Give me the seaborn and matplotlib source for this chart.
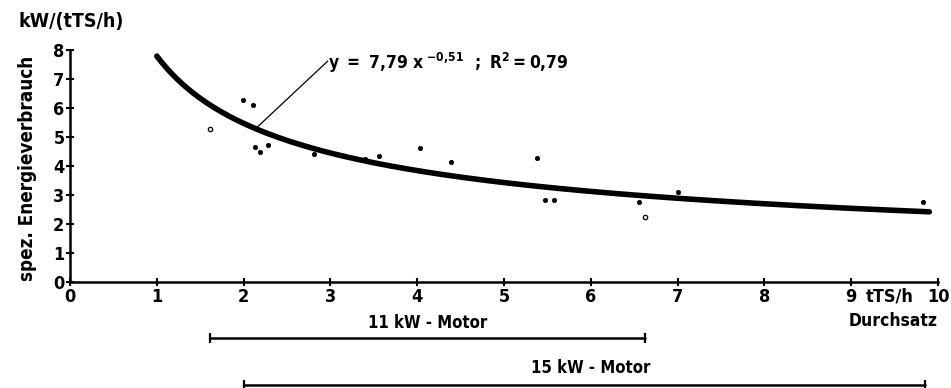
import numpy as np
import pandas as pd
import matplotlib
matplotlib.use("Agg")
import matplotlib.pyplot as plt
import seaborn as sns

# ---- data ----
x_filled = [1.99, 2.11, 2.13, 2.19, 2.28, 2.73, 2.81, 3.40, 3.56, 4.03, 4.39,
            5.38, 5.47, 5.58, 6.55, 7.00, 9.83]
y_filled = [6.26, 6.10, 4.65, 4.50, 4.72, 4.70, 4.40, 4.23, 4.33, 4.61, 4.14,
            4.28, 2.83, 2.84, 2.76, 3.09, 2.76]
x_open = [1.61, 6.62]
y_open = [5.28, 2.24]

fit_a = 7.79          # y = a * x^b  (as printed in the chart)
fit_b = -0.51
fit_x_range = [1.0, 9.9]

motor_labels = ["11 kW - Motor", "15 kW - Motor"]
motor_ranges = [[1.61, 6.62], [2.00, 9.85]]

x_ticks = [0, 1, 2, 3, 4, 5, 6, 7, 8, 9, 10]
y_ticks = [0, 1, 2, 3, 4, 5, 6, 7, 8]

sns.set_theme(style="ticks")
plt.rcParams['font.family'] = ['DejaVu Sans']
plt.rcParams['font.weight'] = 'bold'
plt.rcParams['font.stretch'] = 'condensed'
plt.rcParams['mathtext.fontset'] = 'dejavusans'
plt.rcParams['text.color'] = 'black'

fig = plt.figure(figsize=(9.51, 3.88), dpi=100)
ax = fig.add_axes([70/951, 1-282/388, (938-70)/951, (282-50)/388])

df_f = pd.DataFrame({"x": x_filled, "y": y_filled})
df_o = pd.DataFrame({"x": x_open, "y": y_open})
sns.scatterplot(data=df_f, x="x", y="y", ax=ax, s=10, color="black",
                edgecolor="black", linewidth=0.5, zorder=3)
sns.scatterplot(data=df_o, x="x", y="y", ax=ax, s=10, facecolor="white",
                edgecolor="black", linewidth=0.9, zorder=3)

xc = np.linspace(fit_x_range[0], fit_x_range[1], 300)
df_c = pd.DataFrame({"x": xc, "y": fit_a * xc ** fit_b})
sns.lineplot(data=df_c, x="x", y="y", ax=ax, color="black", linewidth=4.0,
             solid_capstyle="round", zorder=4)

ax.set_xlim(0, 10)
ax.set_ylim(0, 8)
ax.set_xticks(x_ticks)
ax.set_yticks(y_ticks)
ax.set_xticklabels([str(t) for t in x_ticks])
ax.set_yticklabels([str(t) for t in y_ticks])
ax.tick_params(axis="both", direction="inout", length=6, width=1.5,
               labelsize=13, colors="black", pad=1)
for lab in ax.get_xticklabels() + ax.get_yticklabels():
    lab.set_fontweight("bold")
    lab.set_color("black")
sns.despine(ax=ax)
for sp in ["left", "bottom"]:
    ax.spines[sp].set_linewidth(1.8)
    ax.spines[sp].set_color("black")
ax.set_xlabel("")
ax.set_ylabel("")

# axis texts
fig.text(18/951, 1-22/388, "kW/(tTS/h)", fontsize=14, fontweight="bold",
         ha="left", va="center", color="black")
fig.text(28/951, 1-168/388, "spez. Energieverbrauch", fontsize=13.5,
         fontweight="bold", rotation=90, ha="center", va="center", color="black")
ax.text(9.44, -0.5, "tTS/h", fontsize=13, fontweight="bold",
        ha="center", va="center", clip_on=False, color="black")
ax.text(10.0, -1.35, "Durchsatz", fontsize=12.5, fontweight="bold",
        ha="right", va="center", clip_on=False, color="black")

# annotation of fit
ax.plot([2.15, 2.97], [5.32, 7.62], color="black", linewidth=0.9, zorder=4)
ax.text(2.97, 7.55,
        r"$\mathbf{y\ =\ 7{,}79\ x}^{\ \mathbf{-0{,}51}}\ \ \mathbf{;\ R^2 = 0{,}79}$",
        fontsize=12.5, ha="left", va="center", color="black")

# motor ranges
bracket_y = [-1.94, -3.56]
label_y = [-1.42, -2.95]
for lab, (x0, x1), by, ly in zip(motor_labels, motor_ranges, bracket_y, label_y):
    ax.plot([x0, x1], [by, by], color="black", linewidth=1.8, clip_on=False,
            marker="|", markersize=7, markeredgewidth=1.6)
    ax.text((x0 + x1) / 2 if lab.startswith("11") else 6.0, ly, lab,
            fontsize=12, fontweight="bold", ha="center", va="center",
            clip_on=False, color="black")

fig.savefig("out.png", dpi=100)
